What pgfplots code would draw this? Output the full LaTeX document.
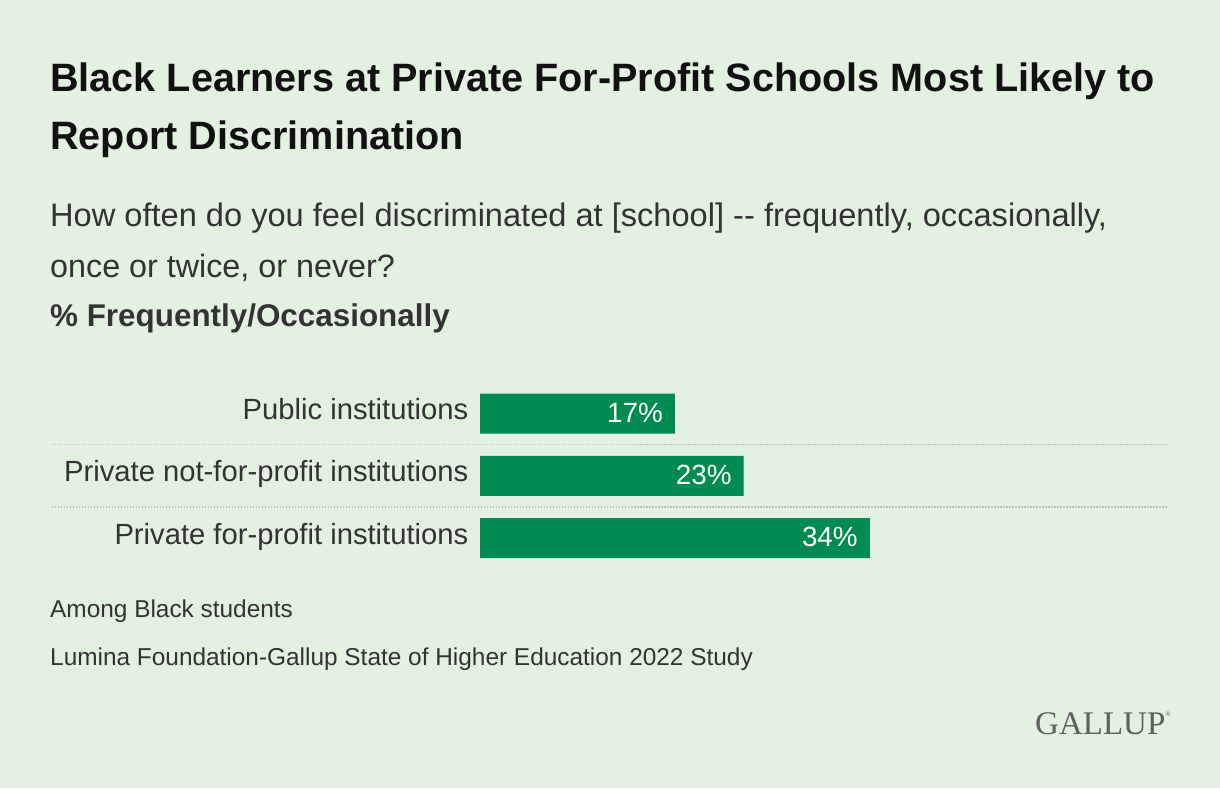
\documentclass[border=0pt]{standalone}
\usepackage{fontspec}
\setmainfont{Liberation Sans}
\newfontfamily\logofont{Liberation Serif}
\usepackage{pgfplots}
\pgfplotsset{compat=1.18}
\definecolor{bg}{RGB}{227,241,225}
\definecolor{bargreen}{RGB}{0,140,80}
\definecolor{titletxt}{RGB}{17,17,17}
\definecolor{txt}{RGB}{51,51,51}
\definecolor{sepline}{RGB}{185,192,185}
\definecolor{logo}{RGB}{95,95,95}

\begin{document}
\begin{tikzpicture}[x=1pt,y=1pt]
  \fill[bg] (0,0) rectangle (1220,788);
  \path[use as bounding box] (0,0) rectangle (1220,788);

  % title and question
  \node[anchor=base west, inner sep=0pt, text=titletxt,
        font=\fontsize{39.6}{44}\selectfont\bfseries] at (50,696.3)
    {Black Learners at Private For-Profit Schools Most Likely to};
  \node[anchor=base west, inner sep=0pt, text=titletxt,
        font=\fontsize{39.6}{44}\selectfont\bfseries] at (50,638.7)
    {Report Discrimination};
  \node[anchor=base west, inner sep=0pt, text=txt,
        font=\fontsize{32.6}{36}\selectfont] at (50,561.3)
    {How often do you feel discriminated at [school] -{}- frequently, occasionally,};
  \node[anchor=base west, inner sep=0pt, text=txt,
        font=\fontsize{32.3}{36}\selectfont] at (50,510)
    {once or twice, or never?};
  \node[anchor=base west, inner sep=0pt, text=txt,
        font=\fontsize{31.4}{36}\selectfont\bfseries] at (50,461.3)
    {\% Frequently/Occasionally};

  % notes
  \node[anchor=base west, inner sep=0pt, text=txt,
        font=\fontsize{24.4}{28}\selectfont] at (50,170.7)
    {Among Black students};
  \node[anchor=base west, inner sep=0pt, text=txt,
        font=\fontsize{24.4}{28}\selectfont] at (50,123)
    {Lumina Foundation-Gallup State of Higher Education 2022 Study};
  \node[anchor=base west, inner sep=0pt, text=logo,
        font=\fontsize{33}{36}\logofont] at (1035,53.7)
    {GALLUP\raisebox{0.55em}{\fontsize{7}{8}\selectfont\textregistered}};

  \begin{axis}[
      at={(480pt,405.65pt)}, anchor=north west,
      scale only axis, width=688pt, height=186.9pt,
      xbar, bar width=40pt,
      xmin=0, xmax=60, ymin=-0.5, ymax=2.5,
      y dir=reverse,
      clip=false,
      axis line style={draw=none},
      major tick length=0pt,
      xtick=\empty,
      ytick={0,1,2},
      yticklabels={Public institutions,
                   Private not-for-profit institutions,
                   Private for-profit institutions},
      yticklabel style={text=txt, inner sep=0pt, anchor=base east,
                        xshift=-11.5pt, yshift=-6pt,
                        font=\fontsize{29.2}{32}\selectfont},
      /pgf/number format/assume math mode=true,
      nodes near coords={\pgfmathprintnumber{\pgfplotspointmeta}\%},
      every node near coord/.append style={anchor=base east, text=white,
                        inner sep=0pt, xshift=-12pt, yshift=-8.8pt,
                        font=\fontsize{27.8}{30}\selectfont},
    ]
    \addplot[fill=bargreen, draw=none] coordinates {
      (17,0)
      (23,1)
      (34,2)
    };
    \draw[sepline, line width=1.2pt, dash pattern=on 1.2pt off 1.8pt]
      (axis cs:-37.3,0.5) -- (axis cs:60,0.5);
    \draw[sepline, line width=1.2pt, dash pattern=on 1.2pt off 1.8pt]
      (axis cs:-37.3,1.5) -- (axis cs:60,1.5);
  \end{axis}
\end{tikzpicture}
\end{document}
